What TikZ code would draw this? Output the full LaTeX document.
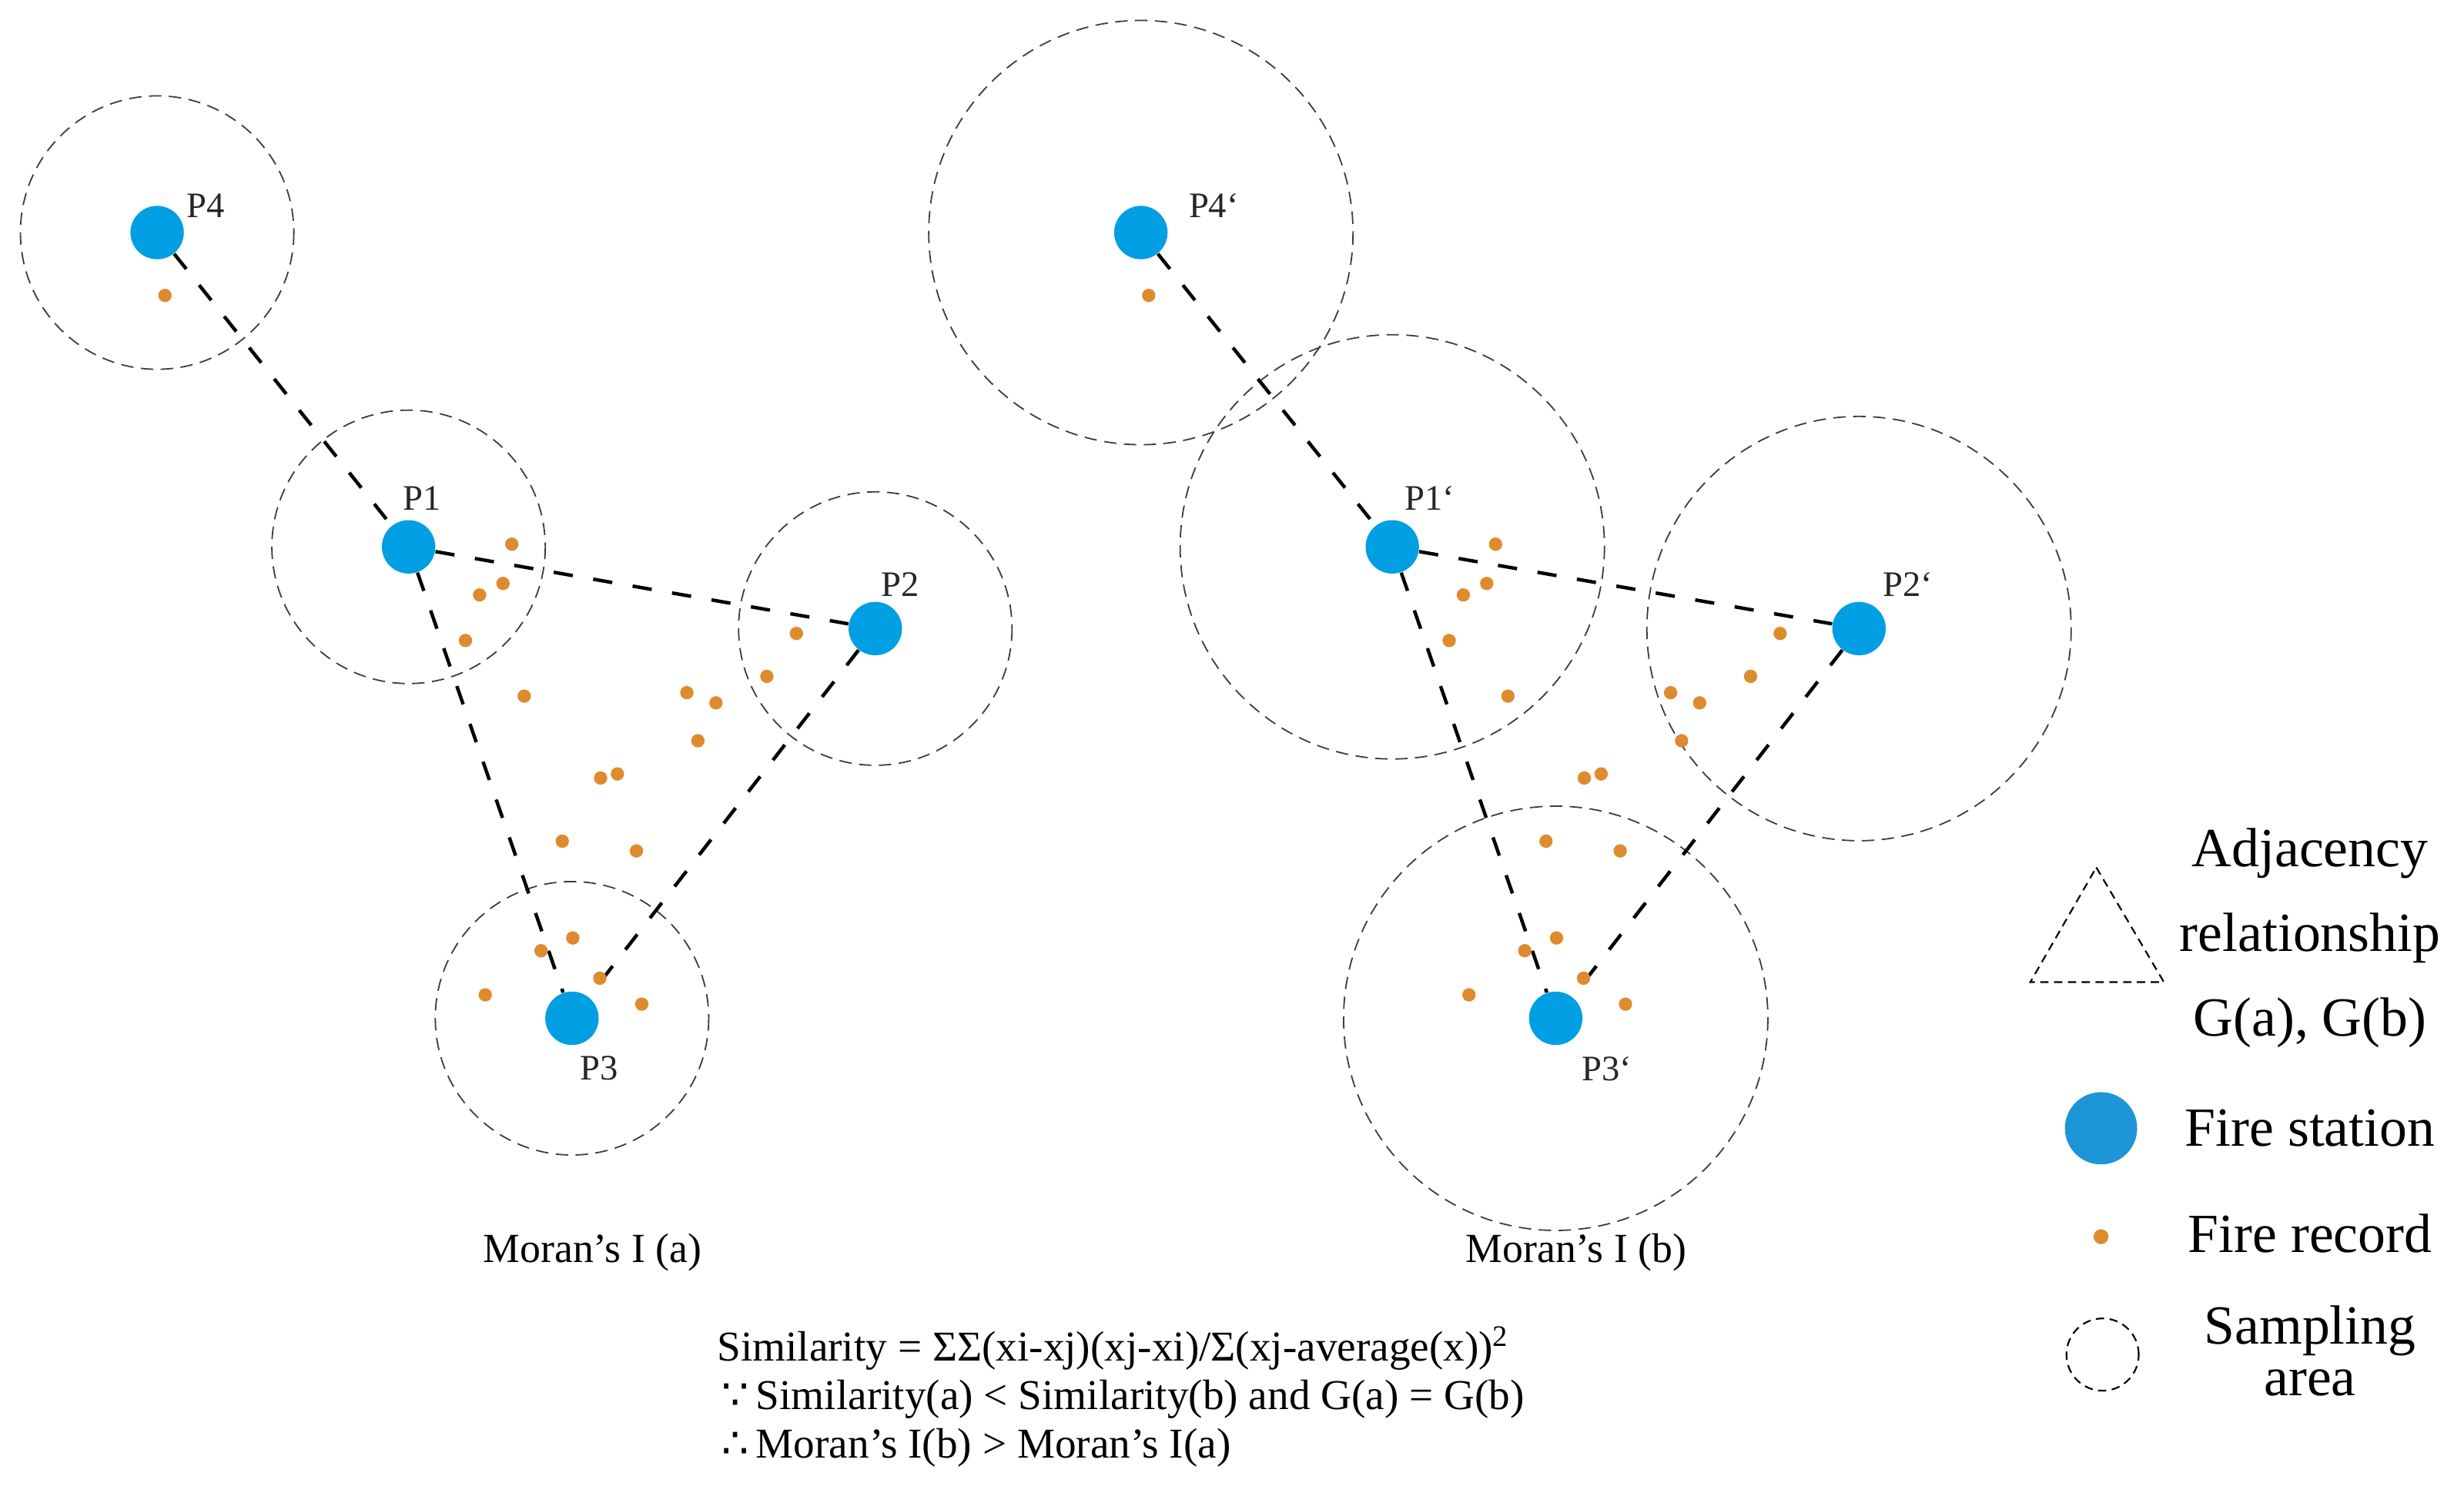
\documentclass[tikz,border=0pt]{standalone}
\usepackage{fontspec}
\setmainfont{Liberation Serif}
\newfontfamily\symbolfont{DejaVu Sans}
\usetikzlibrary{positioning}

\definecolor{stationblue}{RGB}{0,159,227}
\definecolor{keyblue}{RGB}{30,149,214}
\definecolor{recordorange}{RGB}{222,139,46}
\definecolor{areagray}{RGB}{60,60,60}

\tikzset{
  station/.style={circle,fill=stationblue,inner sep=0pt,minimum size=0.68cm},
  record/.style={circle,fill=recordorange,inner sep=0pt,minimum size=0.17cm},
  stationlabel/.style={inner sep=0pt,anchor=west,text=black!85,font=\fontsize{13}{15}\selectfont},
  adjacency/.style={line width=1.25pt,dash pattern=on 7pt off 7.5pt},
  samplearea/.style={areagray,line width=0.5pt,dash pattern=on 4.5pt off 2.7pt},
  keyline/.style={line width=0.6pt,dash pattern=on 3pt off 2pt},
  keytext/.style={align=center,inner sep=0pt},
  bigtext/.style={inner sep=0pt,font=\fontsize{15}{18}\selectfont},
}

\begin{document}
\begin{tikzpicture}[x=0.02cm,y=-0.02cm]
  \useasboundingbox (0,0) rectangle (1568,950);

  % the two layouts: same stations and records, other sampling radius
  \foreach \s/\dx/\rad/\lx/\q in {a/0/87/0/{}, b/626/135/11.5/‘}{
    \begin{scope}[shift={(\dx,0)}]
      \node[station] (P1\s) at (260,348) {};
      \node[station] (P2\s) at (557,400) {};
      \node[station] (P3\s) at (364,648) {};
      \node[station] (P4\s) at (100,148) {};

      \node[stationlabel] (L1\s) at (256+\lx,317) {P1\q};
      \node[stationlabel] (L2\s) at (560.5+\lx,372) {P2\q};
      \node[stationlabel] (L3\s) at (368.7+\lx,680) {P3\q};
      \node[stationlabel] (L4\s) at (118.7+\lx,131) {P4\q};

      \foreach \p in {1,...,4}
        \draw[samplearea] (P\p\s) circle[radius=\rad];

      \draw[adjacency] (P4\s) -- (P1\s);
      \draw[adjacency] (P1\s) -- (P2\s);
      \draw[adjacency] (P1\s) -- (P3\s);
      \draw[adjacency] (P2\s) -- (P3\s);

      \foreach \x/\y [count=\i] in {105/188, 325.7/346.3, 320.1/371.3, 305.2/378.6,
          296.2/407.6, 333.6/443, 506.8/403.1, 488/430.4, 437.1/440.8,
          455.6/447.3, 444.1/471.4, 382.2/495.1, 392.9/492.5, 357.8/535.3,
          405/541.5, 364.5/596.9, 344.3/605, 381.7/622.5, 308.8/633.1, 408.4/639}
        \node[record] (R\s\i) at (\x,\y) {};

      \node[bigtext] (moran\s) at (377,797) {Moran’s I (\s)};
    \end{scope}
  }

  % formula
  \node[bigtext,font=\fontsize{15.4}{18}\selectfont,anchor=base west] (formula1) at (456,866)
    {Similarity = ΣΣ(xi-xj)(xj-xi)/Σ(xj-average(x))\textsuperscript{2}};
  \node[bigtext,font=\fontsize{15.4}{18}\selectfont,anchor=base west] (formula2) at (459,897)
    {{\symbolfont ∵}\,Similarity(a) < Similarity(b) and G(a) = G(b)};
  \node[bigtext,font=\fontsize{15.4}{18}\selectfont,anchor=base west] (formula3) at (459,928)
    {{\symbolfont ∴}\,Moran’s I(b) > Moran’s I(a)};

  % legend
  \draw[keyline] (1334,552) -- (1377,625) -- (1292,625) -- cycle;
  \node[keytext,font=\fontsize{20}{30.6}\selectfont] (keyAdj) at (1470,597)
    {Adjacency\\relationship\\G(a), G(b)};
  \node[circle,fill=keyblue,inner sep=0pt,minimum size=0.92cm] (keyStation) at (1337,718) {};
  \node[keytext,font=\fontsize{20}{24}\selectfont] (keyStationText) at (1470,718) {Fire station};
  \node[record,minimum size=0.19cm] (keyRecord) at (1337,787) {};
  \node[keytext,font=\fontsize{20}{24}\selectfont] (keyRecordText) at (1470,785) {Fire record};
  \node[circle,draw,keyline,inner sep=0pt,minimum size=0.92cm] (keyArea) at (1338,862) {};
  \node[keytext,font=\fontsize{20}{18.7}\selectfont] (keyAreaText) at (1470,859.5) {Sampling\\area};
\end{tikzpicture}
\end{document}
